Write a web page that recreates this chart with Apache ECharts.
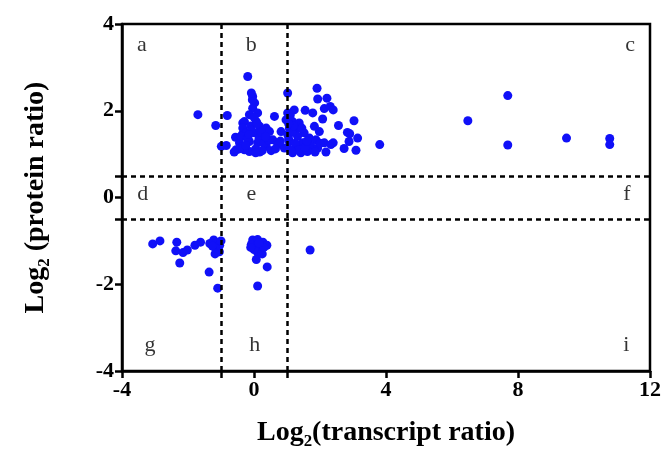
<!DOCTYPE html>
<html>
<head>
<meta charset="utf-8">
<script src="https://cdn.jsdelivr.net/npm/echarts@6/dist/echarts.min.js"></script>
<style>html,body{margin:0;padding:0;background:#fff}#c{width:664px;height:452px}</style>
</head>
<body>
<div id="c"></div>
<script>
// x: log2 transcript ratio, y: log2 protein ratio
const upRegionAB = [[-1.70,1.91],[-1.16,1.66],[-0.81,1.89],[-0.99,1.18],[-0.84,1.20],[-0.56,1.39],[-0.34,1.72],[-0.36,1.45],[-0.54,1.10],[-0.44,1.26],[-0.19,2.79],[-0.04,2.33],[0.02,2.18],[-0.04,2.06],[-0.14,1.91],[0.11,1.95],[0.62,1.87],[-0.29,1.75],[0.07,1.75],[0.17,1.64],[-0.34,1.60],[0.37,1.60],[-0.24,1.49],[0.02,1.49],[0.47,1.52],[0.82,1.52],[-0.39,1.41],[0.27,1.41],[0.57,1.33],[-0.14,1.29],[0.11,1.26],[-0.34,1.18],[0.37,1.18],[0.72,1.22],[-0.14,1.06],[0.17,1.05],[0.52,1.08],[-0.29,1.10],[0.92,1.14],[-0.05,2.25],[0.00,1.85],[-0.10,1.65],[0.15,1.35],[0.30,1.25],[-0.20,1.35],[0.05,1.12],[-0.45,1.12],[0.25,1.08],[0.45,1.32],[0.65,1.12],[-0.08,1.55],[0.22,1.50],[-0.25,1.20],[0.05,1.03],[-0.60,1.05],[0.80,1.30],[0.35,1.40],[0.10,1.70],[-0.15,1.45],[-0.08,2.41]];
const upRegionC = [[1.02,2.41],[1.91,2.52],[1.93,2.27],[2.21,2.29],[2.13,2.05],[2.31,2.10],[1.22,2.02],[1.55,2.01],[1.78,1.95],[1.02,1.95],[0.97,1.79],[1.17,1.75],[2.08,1.81],[1.37,1.72],[1.83,1.64],[1.07,1.60],[1.27,1.56],[1.98,1.52],[1.52,1.49],[1.02,1.45],[1.32,1.41],[1.68,1.37],[1.88,1.33],[1.07,1.29],[1.47,1.26],[2.13,1.26],[1.02,1.14],[1.27,1.18],[1.73,1.18],[1.93,1.14],[1.17,1.03],[1.42,1.03],[1.62,1.06],[2.18,1.05],[2.33,1.22],[2.40,2.02],[3.03,1.77],[2.56,1.66],[2.83,1.50],[2.90,1.47],[3.14,1.37],[2.88,1.29],[2.40,1.26],[2.73,1.13],[3.09,1.09],[3.81,1.22],[6.48,1.77],[7.69,2.35],[7.69,1.21],[9.47,1.37],[10.78,1.36],[10.78,1.22],[1.10,1.90],[1.15,1.50],[1.05,1.35],[1.25,1.25],[1.35,1.10],[1.12,1.08],[1.55,1.15],[1.60,1.30],[1.45,1.60],[1.20,1.65],[1.05,1.70],[1.85,1.05],[2.00,1.25]];
const downRegionG = [[-3.07,-1.07],[-2.85,-1.00],[-2.34,-1.03],[-2.37,-1.23],[-2.15,-1.27],[-2.02,-1.21],[-2.25,-1.51],[-1.79,-1.10],[-1.62,-1.03],[-1.34,-1.06],[-1.22,-0.98],[-1.12,-1.04],[-1.04,-1.10],[-1.16,-1.18],[-1.09,-1.21],[-1.26,-1.12],[-1.36,-1.72],[-1.10,-2.09],[-1.05,-1.25],[-1.18,-1.30],[-1.00,-1.00]];
const downRegionH = [[-0.04,-0.98],[0.11,-0.97],[0.27,-1.03],[0.39,-1.10],[-0.08,-1.08],[0.05,-1.12],[0.19,-1.16],[0.11,-1.27],[0.07,-1.43],[0.40,-1.60],[0.11,-2.04],[0.00,-1.20],[0.25,-1.30],[0.30,-1.15],[-0.10,-1.15],[0.15,-1.05],[1.70,-1.21]];
const xTicks = [-4, 0, 4, 8, 12];
const yTicks = [-4, -2, 0, 2, 4];
const xCutoffs = [-1, 1];
const yCutoffs = [-0.5, 0.5];
const quadrantNames = ['a','b','c','d','e','f','g','h','i'];
const quadrantX = [-3.40, -0.08, 11.40, -3.37, -0.08, 11.30, -3.15, 0.02, 11.28];
const quadrantY = [3.52, 3.52, 3.52, 0.07, 0.07, 0.07, -3.40, -3.40, -3.40];

const chart = echarts.init(document.getElementById('c'), null, {renderer: 'canvas'});
const serif = '"Liberation Serif", "Times New Roman", serif';
const axisBase = {
  axisLine: {show: true, onZero: false, lineStyle: {color: '#000', width: 2.5}},
  axisTick: {show: true, inside: false, length: 7, lineStyle: {color: '#000', width: 2.5}},
  splitLine: {show: false},
  axisLabel: {color: '#000', fontFamily: serif, fontWeight: 'bold', fontSize: 22, margin: 8}
};
const dashStyle = {color: '#000', width: 2.5, type: [5, 4]};
const option = {
  animation: false,
  backgroundColor: '#fff',
  grid: {left: 122, right: 12, top: 24, bottom: 80, show: true, borderColor: '#000', borderWidth: 2.5, backgroundColor: 'transparent'},
  xAxis: [
    Object.assign({}, axisBase, {
      type: 'value', min: -4, max: 12, interval: 4, position: 'bottom',
      axisLabel: Object.assign({}, axisBase.axisLabel, {customValues: xTicks}),
      axisTick: Object.assign({}, axisBase.axisTick, {customValues: xTicks.concat(xCutoffs)}),
      name: 'Log\u2082(transcript ratio)', nameLocation: 'middle', nameGap: 48,
      nameTextStyle: {color: '#000', fontFamily: serif, fontWeight: 'bold', fontSize: 28}
    })
  ],
  yAxis: [
    Object.assign({}, axisBase, {
      type: 'value', min: -4, max: 4, interval: 2, position: 'left',
      axisLabel: Object.assign({}, axisBase.axisLabel, {customValues: yTicks}),
      axisTick: Object.assign({}, axisBase.axisTick, {customValues: yTicks.concat(yCutoffs)}),
      name: 'Log\u2082 (protein ratio)', nameLocation: 'middle', nameGap: 72, nameRotate: 90,
      nameTextStyle: {color: '#000', fontFamily: serif, fontWeight: 'bold', fontSize: 28}
    })
  ],
  series: [
    {
      type: 'scatter', symbolSize: 9, itemStyle: {color: '#1010f8', opacity: 1},
      data: upRegionAB.concat(upRegionC, downRegionG, downRegionH),
      markLine: {
        silent: true, symbol: ['none', 'none'], label: {show: false},
        lineStyle: dashStyle,
        data: xCutoffs.map(v => ({xAxis: v})).concat(yCutoffs.map(v => ({yAxis: v})))
      },
      z: 3
    },
    {
      type: 'scatter', symbolSize: 0, silent: true,
      data: quadrantNames.map((n, i) => ({value: [quadrantX[i], quadrantY[i]], name: n})),
      label: {show: true, position: 'inside', formatter: p => p.name, color: '#000', fontFamily: serif, fontSize: 22}
    }
  ]
};
chart.setOption(option);
</script>
</body>
</html>
